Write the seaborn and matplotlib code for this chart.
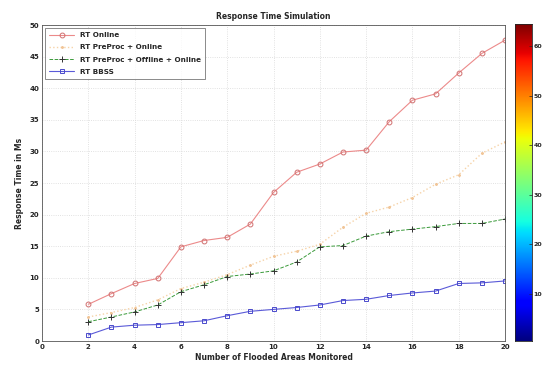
import numpy as np
import pandas as pd
import matplotlib
matplotlib.use("Agg")
import matplotlib.pyplot as plt
import seaborn as sns

areas = list(range(2, 21))
rt_online = [5.8, 7.5, 9.1, 9.9, 14.9, 15.9, 16.4, 18.5, 23.5, 26.7, 28.0, 29.9, 30.2, 34.7, 38.1, 39.1, 42.4, 45.5, 47.6]
rt_pre_online = [3.8, 4.5, 5.3, 6.5, 8.3, 9.3, 10.5, 12.0, 13.4, 14.2, 15.3, 18.0, 20.2, 21.2, 22.7, 24.8, 26.3, 29.7, 31.5]
rt_pre_off_online = [3.05, 3.8, 4.6, 5.7, 7.8, 8.9, 10.2, 10.6, 11.1, 12.5, 14.9, 15.1, 16.6, 17.3, 17.7, 18.1, 18.6, 18.6, 19.3]
rt_bbss = [0.95, 2.2, 2.5, 2.6, 2.9, 3.2, 4.0, 4.7, 5.0, 5.3, 5.7, 6.4, 6.6, 7.2, 7.6, 7.9, 9.1, 9.2, 9.5]

labels = ["RT Online", "RT PreProc + Online", "RT PreProc + Offline + Online", "RT BBSS"]
x_ticks = list(range(0, 21, 2))
y_ticks = list(range(0, 51, 5))
cbar_ticks = [10, 20, 30, 40, 50, 60]

sns.set_style("white")
plt.rcParams['font.family'] = ['DejaVu Sans']

fig = plt.figure(figsize=(5.44, 3.66), dpi=100)
ax = fig.add_axes([42/544, 25/366, 463/544, 316/366])

series = [
    (rt_online, labels[0], dict(color="#ec8a8a", marker="o", markersize=3.5, markerfacecolor="none",
                                 markeredgecolor="#d07070", markeredgewidth=0.7, linestyle="-", linewidth=0.8)),
    (rt_pre_online, labels[1], dict(color="#f6d3a8", marker=".", markersize=2.5, markeredgecolor="#f0c090",
                                     linestyle=":", linewidth=1.0)),
    (rt_pre_off_online, labels[2], dict(color="#3a9a3a", marker="+", markersize=4, linestyle="--", linewidth=0.7,
                                         markeredgecolor="#333333", markeredgewidth=0.7)),
    (rt_bbss, labels[3], dict(color="#5a5ad8", marker="s", markersize=3.5, markerfacecolor="none",
                               markeredgecolor="#4a4acc", markeredgewidth=0.7, linestyle="-", linewidth=0.8)),
]
for vals, lab, kw in series:
    df = pd.DataFrame({"x": areas, "y": vals})
    sns.lineplot(data=df, x="x", y="y", ax=ax, label=lab, **kw)

ax.set_xlim(0, 20)
ax.set_ylim(0, 50)
ax.set_xticks(x_ticks)
ax.set_yticks(y_ticks)
ax.tick_params(direction="in", labelsize=5, length=2, width=0.5, pad=2)
for t in ax.get_xticklabels() + ax.get_yticklabels():
    t.set_fontweight("bold")
ax.grid(True, color="#d8d8d8", linestyle=":", linewidth=0.6)
for s in ax.spines.values():
    s.set_linewidth(0.6)
    s.set_color("#555555")
ax.set_title("Response Time Simulation", fontsize=5.5, fontweight="bold", pad=4)
ax.set_xlabel("Number of Flooded Areas Monitored", fontsize=5.5, fontweight="bold", labelpad=2)
ax.set_ylabel("Response Time in Ms", fontsize=5.5, fontweight="bold", labelpad=4)
leg = ax.legend(loc="upper left", prop={"weight": "bold", "size": 5.2}, frameon=True,
                fancybox=False, edgecolor="#555555", handlelength=3.4, borderpad=0.6, labelspacing=0.85,
                borderaxespad=0.4)
leg.get_frame().set_linewidth(0.6)

cax = fig.add_axes([515/544, 25/366, 17/544, 317/366])
grad = np.linspace(0.5, 64.5, 256).reshape(-1, 1)
cax.imshow(grad, aspect="auto", cmap="jet", origin="lower", extent=[0, 1, 0.5, 64.5])
cax.set_xticks([])
cax.yaxis.tick_right()
cax.set_yticks(cbar_ticks)
cax.tick_params(direction="in", labelsize=4.5, length=2, width=0.5, pad=1)
for t in cax.get_yticklabels():
    t.set_fontweight("bold")
for s in cax.spines.values():
    s.set_linewidth(0.6)

fig.savefig("out.png", dpi=100)
